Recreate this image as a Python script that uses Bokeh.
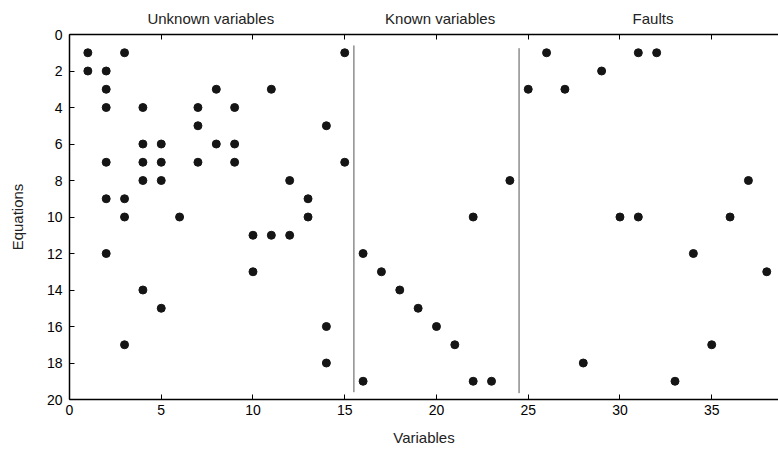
from bokeh.plotting import figure
from bokeh.models import Range1d, LinearAxis, FixedTicker
from bokeh.embed import file_html
from bokeh.resources import INLINE

# Incidence points: (variable, equation)
var_idx = [1, 3, 15, 26, 31, 32,
           1, 2, 29,
           2, 8, 11, 25, 27,
           2, 4, 7, 9,
           7, 14,
           4, 5, 8, 9,
           2, 4, 5, 7, 9, 15,
           4, 5, 12, 24, 37,
           2, 3, 13,
           3, 6, 13, 22, 30, 31, 36,
           10, 11, 12,
           2, 16, 34,
           10, 17, 38,
           4, 18,
           5, 19,
           14, 20,
           3, 21, 35,
           14, 28,
           16, 22, 23, 33]
eq_idx = [1] * 6 + [2] * 3 + [3] * 5 + [4] * 4 + [5] * 2 + [6] * 4 + [7] * 6 + \
         [8] * 5 + [9] * 3 + [10] * 7 + [11] * 3 + [12] * 3 + [13] * 3 + \
         [14] * 2 + [15] * 2 + [16] * 2 + [17] * 3 + [18] * 2 + [19] * 4

# separators between groups
sep_x = [15.5, 24.5]
sep_top = [0.6, 0.75]
sep_bottom = [19.6, 19.65]

group_names = ["Unknown variables", "Known variables", "Faults"]
group_centers = [7.7, 20.2, 31.8]

x_ticks = [0, 5, 10, 15, 20, 25, 30, 35]
y_ticks = [0, 2, 4, 6, 8, 10, 12, 14, 16, 18, 20]

FONT = "Liberation Sans"

p = figure(width=778, height=452, output_backend="svg", toolbar_location=None,
           x_range=Range1d(0, 38.64), y_range=Range1d(20, 0),
           min_border_left=69, min_border_right=0, min_border_top=34,
           min_border_bottom=53)
p.outline_line_color = None
p.grid.visible = False
p.background_fill_color = "white"
p.border_fill_color = "white"

for ax in (p.xaxis[0], p.yaxis[0]):
    ax.axis_line_color = "black"
    ax.axis_line_width = 1.5
    ax.major_tick_in = 5
    ax.major_tick_out = 0
    ax.minor_tick_line_color = None
    ax.major_tick_line_color = "black"
    ax.major_label_text_font = FONT
    ax.major_label_text_font_size = "14px"
    ax.major_label_text_color = "black"
    ax.axis_label_text_font = FONT
    ax.axis_label_text_font_size = "15px"
    ax.axis_label_text_font_style = "normal"
    ax.axis_label_text_color = "#222222"

p.xaxis[0].ticker = FixedTicker(ticks=x_ticks)
p.yaxis[0].ticker = FixedTicker(ticks=y_ticks)
p.xaxis[0].axis_label = "Variables"
p.yaxis[0].axis_label = "Equations"
p.xaxis[0].major_label_standoff = 5
p.xaxis[0].axis_label_standoff = 11
p.yaxis[0].major_label_standoff = 7
p.yaxis[0].axis_label_standoff = 18

# top border: tick marks at the x ticks (as minor ticks), group names as labels
top = LinearAxis(ticker=FixedTicker(ticks=group_centers, minor_ticks=x_ticks),
                 major_label_overrides=dict(zip(group_centers, group_names)))
top.axis_line_color = "black"
top.axis_line_width = 1.5
top.major_tick_line_color = None
top.major_tick_in = 0
top.major_tick_out = 0
top.minor_tick_line_color = "black"
top.minor_tick_in = 5
top.minor_tick_out = 0
top.major_label_text_font = FONT
top.major_label_text_font_size = "15px"
top.major_label_text_color = "#222222"
top.major_label_standoff = 8
p.add_layout(top, "above")

p.segment(x0=sep_x, x1=sep_x, y0=sep_top, y1=sep_bottom,
          line_color="#555555", line_width=1)

p.scatter(x=var_idx, y=eq_idx, size=8, marker="circle",
          fill_color="#151515", line_color="#151515")

open("out.html", "w").write(file_html(p, INLINE))
